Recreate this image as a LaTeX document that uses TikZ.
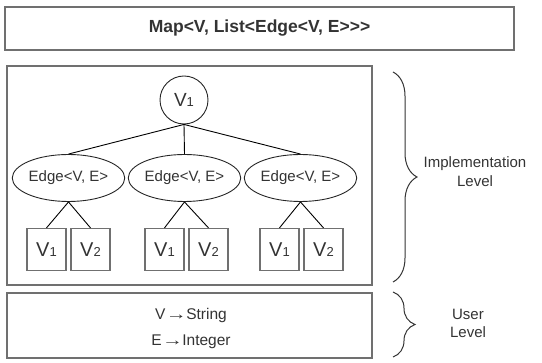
\documentclass[tikz,border=0pt]{standalone}
\usepackage{fontspec}
\usepackage{graphicx}
\setmainfont{Liberation Sans}[Ligatures=TeXOff]
\usetikzlibrary{shapes.geometric,decorations.pathreplacing}
\definecolor{ink}{HTML}{333333}
\definecolor{frame}{HTML}{707070}
% vertex label with a small index on the baseline
\newcommand\vlab[1]{V{\fontsize{13}{15}\selectfont #1}}
% "maps to" arrow between a type variable and its type
\newcommand\mapsarrow{\kern4.5pt\makebox[12.7pt]{\scalebox{1.35}[1]{→}}\kern3.5pt}
\begin{document}
\begin{tikzpicture}[x=1pt,y=-1pt,
  panel/.style={draw=frame,line width=1.4pt,rectangle,inner sep=0pt},
  vert/.style={draw=black!85,line width=0.9pt,circle,minimum size=48pt,inner sep=0pt,
    font=\fontsize{19}{22}\selectfont,text=ink},
  edgenode/.style={draw=black!85,line width=0.9pt,ellipse,minimum width=99pt,
    minimum height=47pt,inner sep=0pt,font=\fontsize{15}{18}\selectfont,text=ink},
  cell/.style={draw=frame,line width=1.2pt,rectangle,minimum width=39pt,
    minimum height=42pt,inner sep=0pt,font=\fontsize{20}{24}\selectfont,text=ink},
  link/.style={draw=black,line width=0.9pt},
  lbl/.style={text=ink,align=center},
  lvlbrace/.style={draw=black!80,line width=1pt,decorate,
    decoration={brace,amplitude=24pt}}
]
\useasboundingbox (0,0) rectangle (542,363);

% outer panels
\node[panel,minimum width=509pt,minimum height=43pt,
  font=\fontsize{17.5}{20}\selectfont\bfseries,text=ink] (title) at (259.5,28.5)
  {Map<V, List<Edge<V, E>>>};
\node[panel,minimum width=365pt,minimum height=219pt] (impl) at (189.5,175.5) {};
\node[panel,minimum width=365pt,minimum height=65pt] (user) at (189.5,325.5) {};

% tree
\node[vert] (root) at (184,100) {\vlab{1}};
\node[edgenode] (e1) at (68.5,178) {Edge<V, E>};
\node[edgenode] (e2) at (184.5,178) {Edge<V, E>};
\node[edgenode] (e3) at (300.5,178) {Edge<V, E>};
\node[cell] (a1) at (46.5,249.5) {\vlab{1}};
\node[cell] (a2) at (90.5,249.5) {\vlab{2}};
\node[cell] (b1) at (164.5,249.5) {\vlab{1}};
\node[cell] (b2) at (208.5,249.5) {\vlab{2}};
\node[cell] (c1) at (279.5,249.5) {\vlab{1}};
\node[cell] (c2) at (323.5,249.5) {\vlab{2}};

\foreach \e in {e1,e2,e3} \draw[link] (root.south) -- (\e.north);
\draw[link] (e1.south) -- (a1.north);
\draw[link] (e1.south) -- (a2.north);
\draw[link] (e2.south) -- (b1.north);
\draw[link] (e2.south) -- (b2.north);
\draw[link] (e3.south) -- (c1.north);
\draw[link] (e3.south) -- (c2.north);

% type bindings
\node[lbl,font=\fontsize{15.5}{26}\selectfont] (bind) at (191,328.5)
  {V\mapsarrow String\\E\mapsarrow Integer};

% level braces
\coordinate (it) at (393,72);
\coordinate (ib) at (393,282);
\coordinate (ut) at (393,292);
\coordinate (ub) at (393,357);
\draw[lvlbrace] (it) -- (ib);
\draw[lvlbrace,decoration={amplitude=22pt}] (ut) -- (ub);
\node[lbl,font=\fontsize{15}{19}\selectfont] (ilab) at (475,172)
  {Implementation\\Level};
\node[lbl,font=\fontsize{15}{18}\selectfont] (ulab) at (468,323)
  {User\\Level};
\end{tikzpicture}
\end{document}
